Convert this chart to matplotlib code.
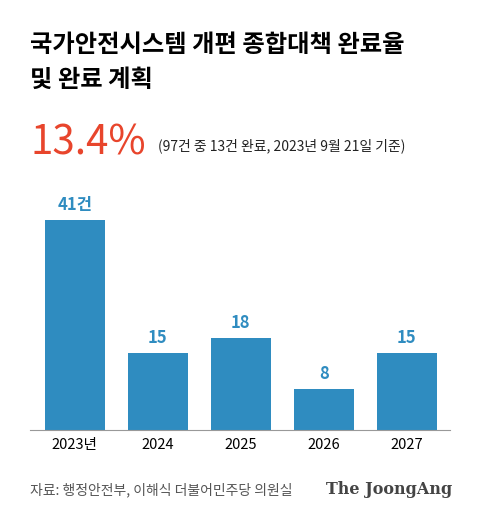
import matplotlib
matplotlib.use("Agg")
import matplotlib.pyplot as plt

plt.rcParams['font.family'] = ['Noto Sans CJK KR', 'DejaVu Sans']

years = ["2023년", "2024", "2025", "2026", "2027"]
values = [41, 15, 18, 8, 15]
labels = ["41건", "15", "18", "8", "15"]

W, H = 480, 518
fig = plt.figure(figsize=(W/100, H/100), dpi=100)
fig.patch.set_facecolor('white')

blue = "#2f8cc0"
ax = fig.add_axes([30/W, 88/H, 420/W, 230/H])
ax.bar(range(len(values)), values, width=0.73, color=blue)
for i, (v, l) in enumerate(zip(values, labels)):
    ax.text(i, v + 1.2, l, ha='center', va='bottom', color=blue, fontsize=12, fontweight='bold')
ax.set_xlim(-0.54, 4.52)
ax.set_ylim(0, 44.9)
ax.set_yticks([])
ax.set_xticks(range(len(years)))
ax.set_xticklabels(years, fontsize=10.5)
ax.tick_params(axis='x', length=0, pad=6)
for s in ['top', 'right', 'left']:
    ax.spines[s].set_visible(False)
ax.spines['bottom'].set_color('#999999')

fig.text(30/W, 1 - 45/H, "국가안전시스템 개편 종합대책 완료율", fontsize=17.5, fontweight='bold', va='center')
fig.text(30/W, 1 - 80/H, "및 완료 계획", fontsize=17.5, fontweight='bold', va='center')
fig.text(30/W, 1 - 143/H, "13.4%", fontsize=29, color='#e8452c', va='center')
fig.text(158/W, 1 - 146/H, "(97건 중 13건 완료, 2023년 9월 21일 기준)", fontsize=10, va='center', color='#222222')
fig.text(30/W, 1 - 490/H, "자료: 행정안전부, 이해식 더불어민주당 의원실", fontsize=10, color='#555555', va='center')
fig.text(452/W, 1 - 490/H, "The JoongAng", fontsize=11.5, fontweight='bold', family='DejaVu Serif', color='#444444', va='center', ha='right')

fig.savefig("out.png", dpi=100)
